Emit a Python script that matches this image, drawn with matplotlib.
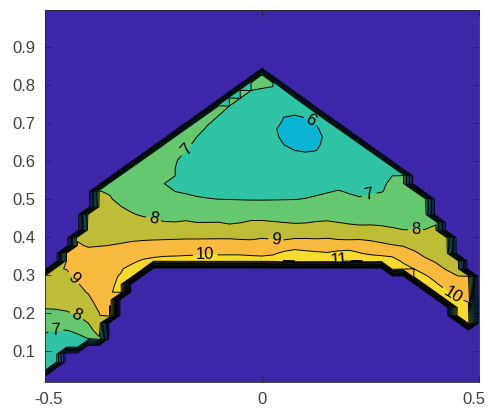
import numpy as np
import matplotlib
matplotlib.use("Agg")
import matplotlib.pyplot as plt
import matplotlib.tri as mtri
import matplotlib.transforms as mtrans
from matplotlib.colors import ListedColormap, BoundaryNorm
from matplotlib.path import Path

plt.rcParams["font.family"] = ["Liberation Sans", "DejaVu Sans"]

# outline of the section (everything outside is zero)
outline_x = [-0.51, -0.51, -0.47, -0.44, -0.41, -0.385, 0.0, 0.33, 0.37, 0.41, 0.45, 0.48, 0.49,
             0.49, 0.43, 0.39, 0.35, 0.27, -0.24, -0.29, -0.33, -0.36, -0.38, -0.45, -0.51]
outline_y = [0.035, 0.285, 0.33, 0.38, 0.45, 0.521, 0.836, 0.57, 0.51, 0.43, 0.35, 0.30, 0.25,
             0.15, 0.212, 0.248, 0.287, 0.328, 0.328, 0.305, 0.23, 0.155, 0.12, 0.095, 0.035]

# values on the outer rim
rim_x = [-0.52, -0.52, -0.47, -0.44, -0.42, -0.395, -0.30, -0.19, -0.08, 0.0, 0.06, 0.12, 0.20,
         0.28, 0.34, 0.38, 0.42, 0.46, 0.52, 0.52, 0.52]
rim_y = [0.03, 0.28, 0.345, 0.39, 0.45, 0.535, 0.615, 0.705, 0.79, 0.86, 0.81, 0.76, 0.69,
         0.625, 0.58, 0.50, 0.44, 0.35, 0.28, 0.19, 0.09]
rim_v = [6.8, 8.6, 9.2, 9.1, 8.5, 8.0, 7.7, 7.6, 7.5, 7.4, 7.0, 6.8, 6.8,
         6.9, 7.3, 7.6, 8.0, 8.6, 9.6, 10.3, 10.5]

# values along the inner opening
hole_x = [0.52, 0.43, 0.38, 0.33, 0.27, 0.15, 0.05, -0.05, -0.15, -0.24, -0.285, -0.32, -0.345,
          -0.365, -0.385, -0.42, -0.46, -0.52]
hole_y = [0.12, 0.19, 0.23, 0.27, 0.31, 0.31, 0.31, 0.31, 0.31, 0.31, 0.285, 0.22, 0.155,
          0.125, 0.105, 0.09, 0.08, 0.025]
hole_v = [10.5, 10.6, 10.7, 11.0, 11.5, 11.7, 11.5, 11.0, 10.9, 10.9, 10.9, 10.7, 10.3,
          8.0, 6.9, 6.6, 6.6, 7.0]

# traced isolines
iso6_x = [0.034, 0.05, 0.09, 0.125, 0.142, 0.13, 0.09, 0.045]
iso6_y = [0.69, 0.72, 0.722, 0.70, 0.66, 0.625, 0.622, 0.645]
iso7_x = [0.04, -0.023, -0.077, -0.131, -0.193, -0.232, -0.201, -0.147, -0.03, 0.086, 0.226,
          0.28, 0.295, 0.288, 0.311, -0.499, -0.457, -0.418, -0.395]
iso7_y = [0.80, 0.787, 0.743, 0.69, 0.603, 0.541, 0.515, 0.502, 0.493, 0.497, 0.502,
          0.515, 0.55, 0.578, 0.578, 0.153, 0.157, 0.146, 0.128]
iso8_x = [-0.34, -0.317, -0.271, -0.209, -0.069, 0.086, 0.24, 0.318, 0.373,
          -0.499, -0.457, -0.418, -0.395]
iso8_y = [0.498, 0.471, 0.449, 0.436, 0.432, 0.434, 0.427, 0.418, 0.418,
          0.208, 0.204, 0.19, 0.168]
iso9_x = [-0.402, -0.34, -0.224, -0.069, 0.086, 0.24, 0.318, 0.38, 0.419, 0.45,
          -0.449, -0.406, -0.379, -0.37]
iso9_y = [0.37, 0.379, 0.392, 0.396, 0.396, 0.392, 0.375, 0.34, 0.31, 0.296,
          0.313, 0.26, 0.217, 0.19]
iso10_x = [-0.352, -0.349, -0.333, -0.309, -0.279, -0.233, -0.131, 0.009, 0.16, 0.25, 0.311,
           0.354, 0.388, 0.427, 0.465]
iso10_y = [0.19, 0.234, 0.287, 0.322, 0.339, 0.348, 0.353, 0.348, 0.35, 0.347, 0.339,
           0.313, 0.295, 0.26, 0.226]
iso11_x = [0.05, 0.178, 0.26]
iso11_y = [0.338, 0.339, 0.335]

# values inside the bands
band_x = [0.09, -0.15, -0.05, 0.0, 0.0, 0.2, 0.2, -0.28, -0.1, 0.15, 0.33, -0.36, -0.2, 0.1,
          0.34, -0.47, -0.40, -0.378, -0.3, -0.1, 0.15, 0.33, 0.42, -0.46, -0.45, -0.15, -0.27]
band_y = [0.672, 0.58, 0.66, 0.72, 0.56, 0.57, 0.65, 0.52, 0.46, 0.465, 0.48, 0.44, 0.415, 0.415,
          0.395, 0.26, 0.32, 0.25, 0.36, 0.373, 0.373, 0.355, 0.29, 0.125, 0.18, 0.73, 0.62]
band_v = [5.6, 6.6, 6.5, 6.7, 6.5, 6.6, 6.6, 7.5, 7.5, 7.5, 7.5, 8.5, 8.5, 8.5,
          8.5, 8.5, 9.6, 9.5, 9.5, 9.5, 9.5, 9.5, 9.5, 6.6, 7.5, 7.4, 7.5]

levels = np.arange(0, 13)
band_colors = ["#3D26A8", "#4253F0", "#2F73F5", "#1A8FE0", "#0BA3D0", "#0BB4D2",
               "#2DC3A3", "#66C86E", "#BDBE35", "#F8BA3C", "#F6DA2E", "#F9F51A"]
labelled = [6, 7, 8, 9, 10, 11]

# label spots
label_xy = [(0.109, 0.699), (-0.175, 0.63), (0.249, 0.499), (-0.251, 0.442), (0.353, 0.418),
            (0.032, 0.395), (-0.131, 0.353), (0.178, 0.339), (-0.433, 0.292), (-0.426, 0.195),
            (-0.475, 0.156), (0.44, 0.248)]

px, py, pv = [], [], []
for xs, ys, v in [(iso6_x, iso6_y, 6), (iso7_x, iso7_y, 7), (iso8_x, iso8_y, 8),
                  (iso9_x, iso9_y, 9), (iso10_x, iso10_y, 10), (iso11_x, iso11_y, 11)]:
    px += xs
    py += ys
    pv += [v] * len(xs)
px += rim_x + hole_x + band_x
py += rim_y + hole_y + band_y
pv += rim_v + hole_v + band_v

tri = mtri.Triangulation(px, py)
interp = mtri.LinearTriInterpolator(tri, np.array(pv, dtype=float))

gx = np.linspace(-0.5, 0.5, 41)
gy = 0.03 + 0.0204 * np.arange(-1, 49)
X, Y = np.meshgrid(gx, gy)
inside = Path(np.column_stack([outline_x, outline_y])).contains_points(
    np.column_stack([X.ravel(), Y.ravel()])).reshape(X.shape)
Z = np.where(inside, np.ma.filled(interp(X, Y), 0.0), 0.0)

cmap = ListedColormap(band_colors)
norm = BoundaryNorm(levels, cmap.N)

fig = plt.figure(figsize=(4.88, 4.12), dpi=100)
ax = fig.add_axes([0.092, 0.073, 0.89, 0.903])
ax.contourf(X, Y, Z, levels=levels, cmap=cmap, norm=norm)
ax.contour(X, Y, Z, levels=[1, 2, 3, 4, 5], colors="k", linewidths=0.8)
cs = ax.contour(X, Y, Z, levels=labelled, colors="k", linewidths=0.7)
ax.clabel(cs, manual=label_xy, fmt="%d", fontsize=12, inline_spacing=3)

ax.set_xlim(-0.5, 0.5)
ax.set_ylim(0.018, 0.997)
ax.set_xticks([-0.5, 0, 0.5])
ax.set_xticklabels(["-0.5", "0", "0.5"])
ax.set_yticks(np.arange(0.1, 0.95, 0.1))
ax.set_yticklabels(["0.1", "0.2", "0.3", "0.4", "0.5", "0.6", "0.7", "0.8", "0.9"])
ax.tick_params(direction="in", length=4, width=0.6, colors="#262626", labelcolor="#404040",
               labelsize=12, top=True, right=True, pad=7)
for sp in ax.spines.values():
    sp.set_color("#262626")
    sp.set_linewidth(0.6)

# nudge the end labels so they stay inside the figure
xlabels = ax.get_xticklabels()
for lab, dx in [(xlabels[0], 4), (xlabels[-1], -5)]:
    lab.set_transform(lab.get_transform() + mtrans.ScaledTranslation(dx / 100, 0, fig.dpi_scale_trans))

fig.savefig("out.png", dpi=100)
